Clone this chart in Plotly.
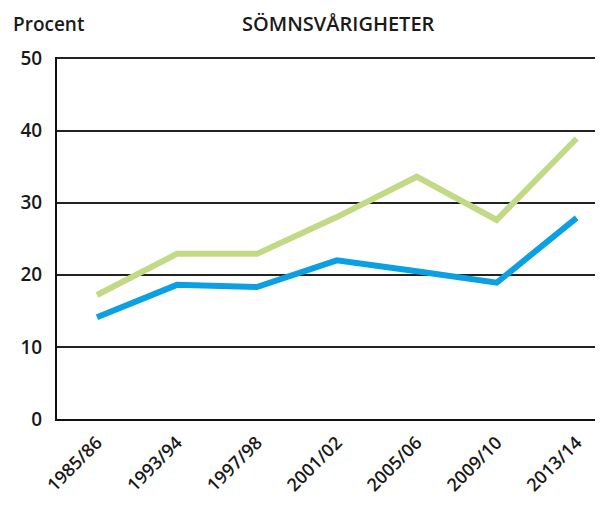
import plotly.graph_objects as go

categories = ["1985/86", "1993/94", "1997/98", "2001/02", "2005/06", "2009/10", "2013/14"]
green_series = [17.2, 22.9, 22.9, 28.0, 33.6, 27.6, 38.9]
blue_series = [14.1, 18.6, 18.3, 22.0, 20.5, 18.9, 27.9]
y_ticks = [0, 10, 20, 30, 40, 50]

FONT = "Open Sans, sans-serif"

fig = go.Figure()
fig.add_trace(go.Scatter(x=categories, y=green_series, mode="lines",
                         line=dict(color="#c2da86", width=6), showlegend=False))
fig.add_trace(go.Scatter(x=categories, y=blue_series, mode="lines",
                         line=dict(color="#0aa0e2", width=6), showlegend=False))

fig.update_layout(
    width=595, height=501,
    margin=dict(l=49, r=0, t=49, b=90, autoexpand=False),
    paper_bgcolor="white", plot_bgcolor="white",
    font=dict(family=FONT, size=16, color="#1a1a1a", weight=600),
    xaxis=dict(type="category", range=[-0.5, 6.33], tickangle=-45,
               showgrid=False, showline=True, linecolor="#111", linewidth=2,
               ticks="", automargin=False, ticklabelstandoff=4,
               tickfont=dict(size=18, family=FONT, weight=600)),
    yaxis=dict(range=[0, 50.2], tickvals=y_ticks, showgrid=True,
               gridcolor="#222", gridwidth=2, zeroline=False,
               showline=True, linecolor="#111", linewidth=2, ticks="",
               automargin=False, ticklabelstandoff=9,
               tickfont=dict(size=19, family=FONT, weight=600)),
    annotations=[
        dict(text="Procent", xref="paper", yref="paper", x=-0.084, y=1.05,
             xanchor="left", yanchor="bottom", showarrow=False,
             font=dict(size=19, family=FONT, color="#1a1a1a", weight=600)),
        dict(text="SÖMNSVÅRIGHETER", xref="paper", yref="paper", x=0.515, y=1.05,
             xanchor="center", yanchor="bottom", showarrow=False,
             font=dict(size=20, family=FONT, color="#1a1a1a", weight=600)),
    ],
)
fig.write_html("out.html")
